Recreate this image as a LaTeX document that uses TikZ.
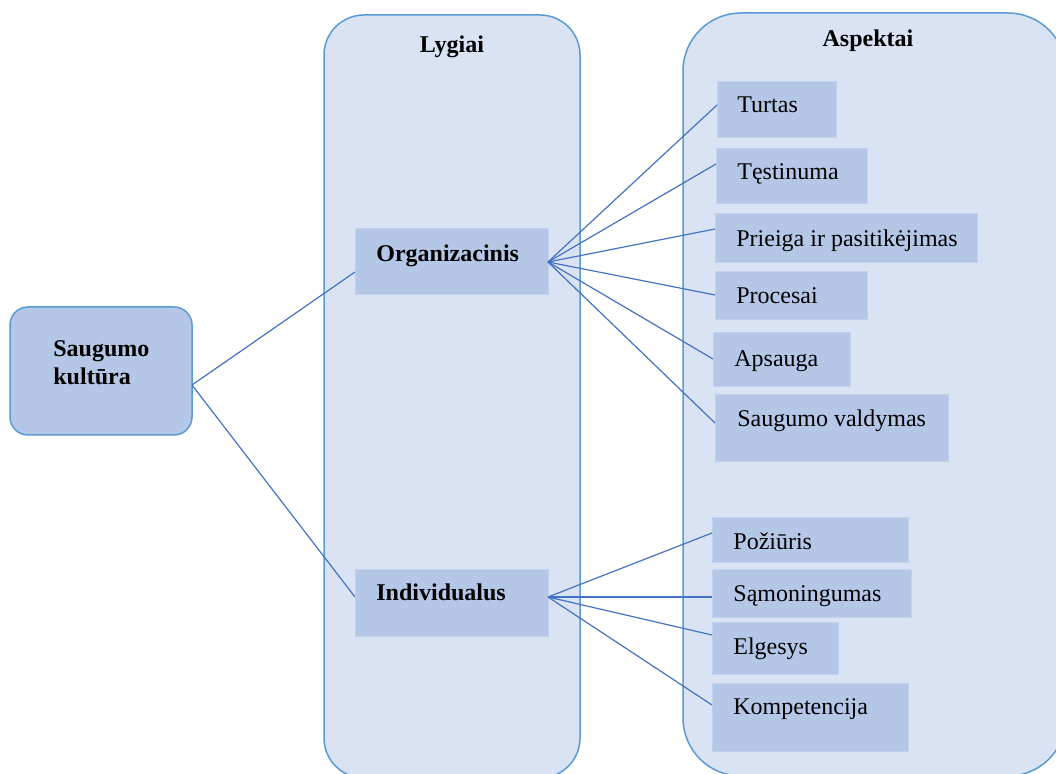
\documentclass[tikz,border=0pt]{standalone}
\usepackage{fontspec}
\setmainfont{Liberation Serif}
\newfontfamily\diagfont{Liberation Serif}
\usetikzlibrary{calc}
\definecolor{panelfill}{HTML}{DAE3F3}
\definecolor{paneledge}{HTML}{5B9BD5}
\definecolor{boxfill}{HTML}{B4C7E7}
\definecolor{boxedge}{HTML}{C3D2EC}
\definecolor{linkcol}{HTML}{4472C4}
\begin{document}
\begin{tikzpicture}[x=0.5pt,y=-0.5pt,
  panel/.style={draw=paneledge,fill=panelfill,line width=0.75pt,inner sep=0pt,outer sep=0pt,anchor=north west},
  rootbox/.style={draw=paneledge,fill=boxfill,line width=0.75pt,rounded corners=9pt,inner sep=0pt,outer sep=0pt,anchor=north west},
  itembox/.style={draw=boxedge,fill=boxfill,line width=0.4pt,inner sep=0pt,outer sep=0pt,anchor=north west},
  txt/.style={inner sep=0pt,anchor=base west,font=\diagfont\fontsize{12}{14}\selectfont},
  btxt/.style={txt,font=\diagfont\fontsize{12}{14}\selectfont\bfseries},
  title/.style={inner sep=0pt,anchor=base,font=\diagfont\fontsize{12}{14}\selectfont\bfseries},
  link/.style={draw=linkcol,line width=0.6pt}]
\useasboundingbox (0,0) rectangle (1056,774);
\fill[white] (0,0) rectangle (1056,774);
\clip (0,0) rectangle (1056,774);

% column panels
\node[panel,rounded corners=20pt,minimum width=128pt,minimum height=381.5pt] (levels) at (324,15) {};
\node[panel,rounded corners=29pt,minimum width=191.5pt,minimum height=381.5pt] (aspects) at (683,13) {};
\node[title] (levels-t) at (452,53) {Lygiai};
\node[title] (aspects-t) at (868,47) {Aspektai};

% root
\node[rootbox,minimum width=91pt,minimum height=64pt] (sk) at (10,307) {};
\node[btxt] (sk-t1) at (53,357) {Saugumo};
\node[btxt] (sk-t2) at (53,385) {kultūra};

% levels
\node[itembox,minimum width=96.5pt,minimum height=33pt] (org) at (355,228) {};
\node[btxt] (org-t) at (376,262) {Organizacinis};
\node[itembox,minimum width=96.5pt,minimum height=33.5pt] (ind) at (355,569) {};
\node[btxt] (ind-t) at (376,601) {Individualus};

% aspects: organisational
\node[itembox,minimum width=59.5pt,minimum height=28pt] (turtas) at (717,81) {};
\node[txt] (turtas-t) at (737,113) {Turtas};
\node[itembox,minimum width=75.5pt,minimum height=27.5pt] (test) at (716,148) {};
\node[txt] (test-t) at (737,180) {Tęstinuma};
\node[itembox,minimum width=131pt,minimum height=24.5pt] (prieiga) at (715,213) {};
\node[txt] (prieiga-t) at (736,247) {Prieiga ir pasitikėjimas};
\node[itembox,minimum width=76pt,minimum height=24pt] (proc) at (715,271) {};
\node[txt] (proc-t) at (736,304) {Procesai};
\node[itembox,minimum width=68.5pt,minimum height=27pt] (aps) at (713,332) {};
\node[txt] (aps-t) at (734,367) {Apsauga};
\node[itembox,minimum width=116.5pt,minimum height=33.5pt] (sv) at (715,394) {};
\node[txt] (sv-t) at (737,427) {Saugumo valdymas};

% aspects: individual
\node[itembox,minimum width=98pt,minimum height=22.5pt] (poz) at (712,517) {};
\node[txt] (poz-t) at (733,550) {Požiūris};
\node[itembox,minimum width=99.5pt,minimum height=24pt] (sam) at (712,569) {};
\node[txt] (sam-t) at (733,602) {Sąmoningumas};
\node[itembox,minimum width=63pt,minimum height=26pt] (elg) at (712,622) {};
\node[txt] (elg-t) at (733,655) {Elgesys};
\node[itembox,minimum width=98pt,minimum height=34pt] (komp) at (712,683) {};
\node[txt] (komp-t) at (733,715) {Kompetencija};

% connectors
\coordinate (sk-hub) at ($(sk.north east)+(0,78)$);
\coordinate (org-hub) at ($(org.north east)+(0,34)$);
\coordinate (ind-hub) at ($(ind.north east)+(0,28)$);
\draw[link] (sk-hub) -- ($(org.north west)+(0,44)$);
\draw[link] (sk-hub) -- ($(ind.north west)+(0,28)$);
\draw[link] (org-hub) -- ($(turtas.north west)+(0,24)$);
\draw[link] (org-hub) -- ($(test.north west)+(0,16)$);
\draw[link] (org-hub) -- ($(prieiga.north west)+(0,16)$);
\draw[link] (org-hub) -- ($(proc.north west)+(0,24)$);
\draw[link] (org-hub) -- ($(aps.north west)+(0,27)$);
\draw[link] (org-hub) -- ($(sv.north west)+(0,29)$);
\draw[link] (ind-hub) -- ($(poz.north west)+(0,16)$);
\draw[link] (ind-hub) -- ($(sam.north west)+(0,28)$);
\draw[link] (ind-hub) -- ($(elg.north west)+(0,13)$);
\draw[link] (ind-hub) -- ($(komp.north west)+(0,22)$);
\end{tikzpicture}
\end{document}
